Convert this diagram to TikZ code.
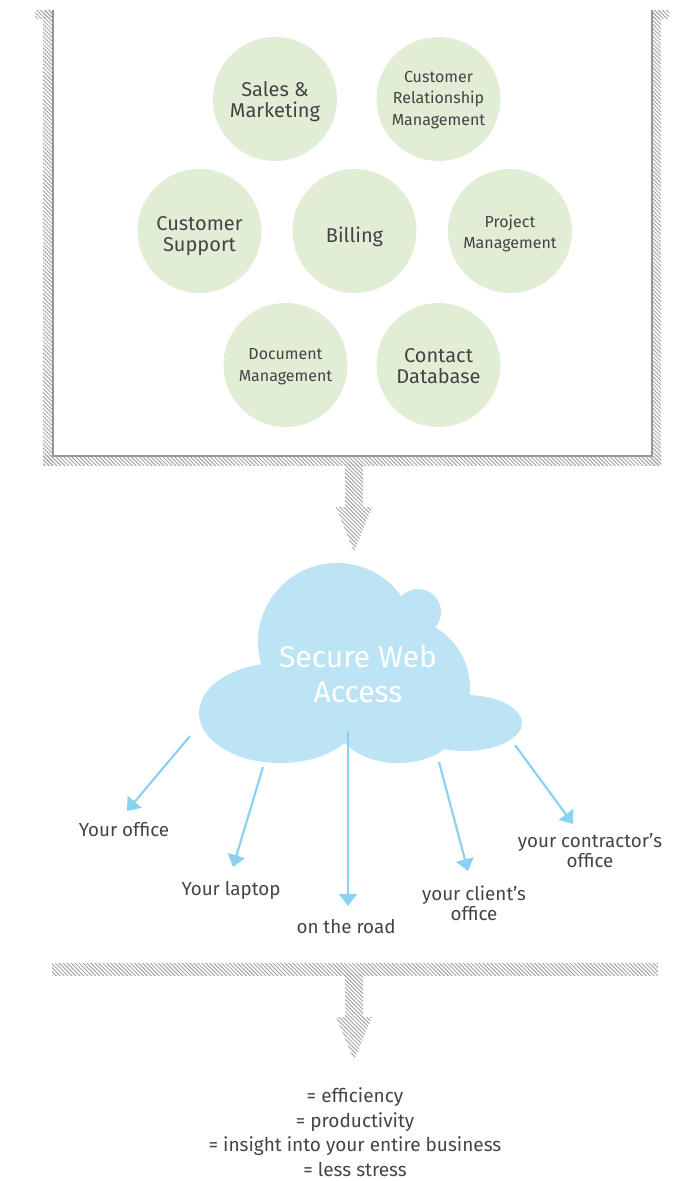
\documentclass[tikz,border=0pt]{standalone}
\usepackage{fontspec}
\setmainfont{Fira Sans}
\usetikzlibrary{patterns.meta,arrows.meta}
\definecolor{bubble}{RGB}{226,237,214}
\definecolor{txt}{RGB}{68,68,68}
\definecolor{cloudc}{RGB}{188,228,245}
\definecolor{arrc}{RGB}{138,210,242}
\definecolor{hatchc}{RGB}{165,165,165}
\definecolor{linec}{RGB}{150,150,150}
\begin{document}
\begin{tikzpicture}[x=1pt,y=-1pt,
  bubble/.style={circle,fill=bubble,minimum size=124pt,inner sep=0pt},
  btext/.style={inner sep=0pt,align=center,text=txt},
  bigf/.style={font=\fontsize{20}{21}\selectfont},
  smallf/.style={font=\fontsize{16}{21.5}\selectfont},
  lbl/.style={text=txt,inner sep=0pt,align=center,font=\fontsize{18.8}{20}\selectfont},
  hatch/.style={pattern={Lines[angle=-45,distance=2.8pt,line width=1pt]},pattern color=hatchc},
  webarrow/.style={draw=arrc,line width=2.2pt,-{Triangle[length=12pt,width=18pt]}},
]
\useasboundingbox (0,0) rectangle (692,1181);
% hatched frame
\path[hatch] (43,10) rectangle (52.5,465);
\path[hatch] (35,10) rectangle (52.5,18);
\path[hatch] (43,455.5) rectangle (661,465);
\path[hatch] (651.5,10) rectangle (661,465);
\path[hatch] (651.5,10) rectangle (669,18);
\path[hatch] (345,464) -- (345,507) -- (336,507) -- (354,552) -- (372,507) -- (363,507) -- (363,464) -- cycle;
\draw[linec,line width=2pt] (52.5,10) -- (52.5,455.5) -- (651.5,455.5) -- (651.5,10);
% bubbles
\node[bubble] (sales) at (275,99) {};
\node[bubble] (crm) at (438.5,99) {};
\node[bubble] (support) at (199.5,231) {};
\node[bubble] (billing) at (354.5,231) {};
\node[bubble] (project) at (510,231) {};
\node[bubble] (document) at (285.5,365) {};
\node[bubble] (contact) at (438.5,365) {};
\node[btext,bigf] (salest) at ([yshift=-3pt]sales.center) {Sales \&\\Marketing};
\node[btext,smallf] (crmt) at ([yshift=-1pt]crm.center) {Customer\\Relationship\\Management};
\node[btext,bigf] (supportt) at ([yshift=-5pt]support.center) {Customer\\Support};
\node[btext,bigf] (billingt) at ([yshift=-5.5pt]billing.center) {Billing};
\node[btext,smallf] (projectt) at ([yshift=-2.5pt]project.center) {Project\\Management};
\node[btext,smallf] (documentt) at ([yshift=-1.5pt]document.center) {Document\\Management};
\node[btext,bigf] (contactt) at ([yshift=-1pt]contact.center) {Contact\\Database};
% cloud
\fill[cloudc] (337,642) circle[radius=79];
\fill[cloudc] (418,612) circle[radius=23];
\fill[cloudc] (400,688) circle[radius=70];
\fill[cloudc] (465,723) ellipse[x radius=57,y radius=28];
\fill[cloudc] (398,725) ellipse[x radius=60,y radius=38];
\fill[cloudc] (280,713) ellipse[x radius=81,y radius=50];
\node[text=white,inner sep=0pt,align=center,font=\fontsize{30}{35}\selectfont,anchor=south] (swa) at (358,703.5) {Secure Web\\Access};
% arrows
\coordinate (o1) at (190,736); \coordinate (t1) at (127,811);
\coordinate (o2) at (263,767); \coordinate (t2) at (233,867);
\coordinate (o3) at (348,731); \coordinate (t3) at (348,906);
\coordinate (o4) at (439,762); \coordinate (t4) at (468,871);
\coordinate (o5) at (515,745); \coordinate (t5) at (573,824);
\draw[webarrow] (o1) -- (t1);
\draw[webarrow] (o2) -- (t2);
\draw[webarrow] (o3) -- (t3);
\draw[webarrow] (o4) -- (t4);
\draw[webarrow] (o5) -- (t5);
\node[lbl,anchor=base] (office) at (124,836.5) {Your office};
\node[lbl,anchor=base] (laptop) at (231,895.5) {Your laptop};
\node[lbl,anchor=base] (road) at (346,933) {on the road};
\node[lbl,anchor=south] (client) at (474,920.5) {your client’s\\office};
\node[lbl,anchor=south] (contractor) at (590,867.5) {your contractor’s\\office};
% second divider
\path[hatch] (52,963) rectangle (658,975);
\path[hatch] (345,974) -- (345,1017) -- (336,1017) -- (354,1060) -- (372,1017) -- (363,1017) -- (363,974) -- cycle;
\node[text=txt,inner sep=0pt,align=center,font=\fontsize{19}{24.7}\selectfont,anchor=south] (result) at (355,1177) {= efficiency\\= productivity\\= insight into your entire business\\= less stress};
\end{tikzpicture}
\end{document}
